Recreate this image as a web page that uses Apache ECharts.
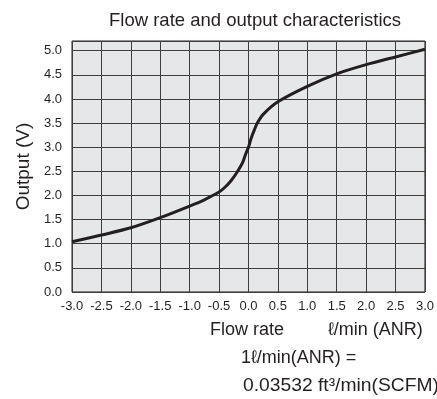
<!DOCTYPE html>
<html>
<head>
<meta charset="utf-8">
<script src="https://cdn.jsdelivr.net/npm/echarts@6/dist/echarts.min.js"></script>
<style>
  html, body { margin: 0; padding: 0; background: #fff; }
  #chart { width: 437px; height: 399px; }
</style>
</head>
<body>
<div id="chart"></div>
<script>
// flow rate (l/min ANR) vs output voltage
const flowRate = [-3.0, -2.5, -2.0, -1.5, -1.0, -0.75, -0.5, -0.4, -0.3, -0.2, -0.1, -0.05, 0.0, 0.05, 0.1, 0.15, 0.25, 0.5, 1.0, 1.5, 2.0, 2.5, 3.0];
const outputV = [1.04, 1.18, 1.33, 1.54, 1.78, 1.91, 2.07, 2.17, 2.30, 2.47, 2.68, 2.85, 3.0, 3.2, 3.36, 3.5, 3.68, 3.94, 4.26, 4.52, 4.71, 4.87, 5.03];

const titleText = "Flow rate and output characteristics";
const yAxisName = "Output (V)";
const xAxisName = "Flow rate";
const xAxisUnit = "\u2113/min (ANR)";
const noteLine1 = "1\u2113/min(ANR) =";
const noteLine2 = "0.03532 ft\u00b3/min(SCFM)";

const font = "Liberation Sans, Arial, sans-serif";
const ink = "#231f20";
const chart = echarts.init(document.getElementById("chart"));

const option = {
  animation: false,
  title: {
    text: titleText,
    left: 250,
    textAlign: "center",
    top: 6,
    textStyle: { fontFamily: font, fontSize: 18.5, fontWeight: "normal", color: ink },
  },
  grid: {
    left: 72,
    right: 11,
    top: 41,
    bottom: 107,
    show: true,
    backgroundColor: "#e6e7e8",
    borderColor: ink,
    borderWidth: 1,
  },
  xAxis: {
    type: "value",
    min: -3,
    max: 3,
    interval: 0.5,
    axisLine: { show: false },
    axisTick: { show: false },
    axisLabel: {
      fontFamily: "Liberation Sans Narrow, " + font,
      fontSize: 13,
      color: ink,
      margin: 8,
      hideOverlap: false,
      formatter: (v) => v.toFixed(1),
    },
    splitLine: { lineStyle: { color: "#3d3d3d", width: 1 } },
  },
  yAxis: {
    type: "value",
    min: 0,
    max: 5.2,
    interval: 0.5,
    name: yAxisName,
    nameLocation: "middle",
    nameGap: 39,
    nameTextStyle: { fontFamily: font, fontSize: 19, color: ink },
    axisLine: { show: false },
    axisTick: { show: false },
    axisLabel: {
      fontFamily: font,
      fontSize: 13,
      color: ink,
      margin: 10,
      showMaxLabel: false,
      formatter: (v) => v.toFixed(1),
    },
    splitLine: { lineStyle: { color: "#3d3d3d", width: 1 } },
  },
  graphic: [
    {
      type: "text",
      left: 210,
      top: 321,
      style: { text: xAxisName, fontFamily: font, fontSize: 18, fill: ink },
    },
    {
      type: "text",
      left: 328,
      top: 321,
      style: { text: xAxisUnit, fontFamily: font, fontSize: 18, fill: ink },
    },
    {
      type: "text",
      left: 241,
      top: 349,
      style: { text: noteLine1, fontFamily: font, fontSize: 18, fill: ink },
    },
    {
      type: "text",
      x: 243,
      y: 377,
      scaleX: 1.07,
      style: { text: noteLine2, fontFamily: font, fontSize: 18, fill: ink },
    },
  ],
  series: [
    {
      type: "line",
      data: flowRate.map((x, i) => [x, outputV[i]]),
      smooth: 0.3,
      symbol: "none",
      lineStyle: { color: ink, width: 3 },
    },
  ],
};

chart.setOption(option);
</script>
</body>
</html>
